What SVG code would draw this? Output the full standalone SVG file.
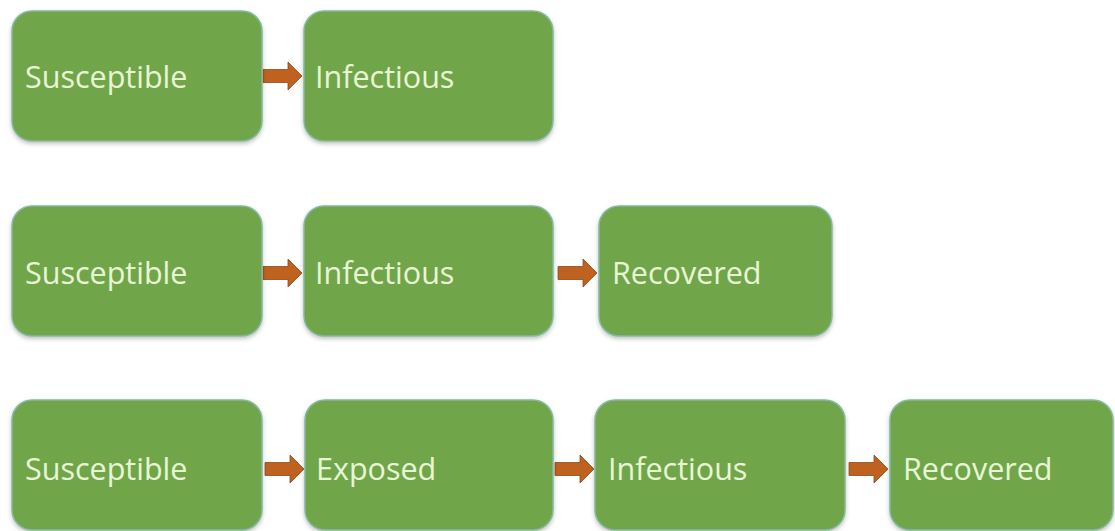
<svg xmlns="http://www.w3.org/2000/svg" width="1115" height="531" viewBox="0 0 1115 531">
<defs>
<style>
.box{fill:#70a64a;stroke:#84b8a0;stroke-width:1.5}
.lbl{font-family:"Open Sans","Liberation Sans",sans-serif;font-size:30.5px;fill:#e9f6d6}
.arr{fill:#c0621f;stroke:#8a4a1e;stroke-width:0.8}
</style>
<filter id="sh" x="-10%" y="-10%" width="120%" height="130%">
<feDropShadow dx="0" dy="2" stdDeviation="2" flood-color="#000" flood-opacity="0.25"/>
</filter>
<path id="a" d="M0,-6.5 H25 V-14 L39,0 L25,14 V6.5 H0 Z"/>
</defs>
<g id="connectors">
<use href="#a" class="arr" x="263" y="76"/>
<use href="#a" class="arr" x="263" y="273"/>
<use href="#a" class="arr" x="558" y="273"/>
<use href="#a" class="arr" x="265" y="469"/>
<use href="#a" class="arr" x="555" y="469"/>
<use href="#a" class="arr" x="849" y="469"/>
</g>
<g id="r1-susceptible"><rect class="box" filter="url(#sh)" x="12" y="11" width="250" height="130" rx="20"/><text class="lbl" x="25" y="88">Susceptible</text></g>
<g id="r1-infectious"><rect class="box" filter="url(#sh)" x="304" y="11" width="249" height="130" rx="20"/><text class="lbl" x="315" y="88">Infectious</text></g>
<g id="r2-susceptible"><rect class="box" filter="url(#sh)" x="12" y="206" width="250" height="130" rx="20"/><text class="lbl" x="25" y="284">Susceptible</text></g>
<g id="r2-infectious"><rect class="box" filter="url(#sh)" x="304" y="206" width="249" height="130" rx="20"/><text class="lbl" x="315" y="284">Infectious</text></g>
<g id="r2-recovered"><rect class="box" filter="url(#sh)" x="599" y="206" width="233" height="130" rx="20"/><text class="lbl" x="612" y="284">Recovered</text></g>
<g id="r3-susceptible"><rect class="box" filter="url(#sh)" x="12" y="400" width="250" height="130" rx="20"/><text class="lbl" x="25" y="480">Susceptible</text></g>
<g id="r3-exposed"><rect class="box" filter="url(#sh)" x="305" y="400" width="248" height="130" rx="20"/><text class="lbl" x="316" y="480">Exposed</text></g>
<g id="r3-infectious"><rect class="box" filter="url(#sh)" x="595" y="400" width="250" height="130" rx="20"/><text class="lbl" x="608" y="480">Infectious</text></g>
<g id="r3-recovered"><rect class="box" filter="url(#sh)" x="890" y="400" width="223" height="130" rx="20"/><text class="lbl" x="903" y="480">Recovered</text></g>
</svg>
